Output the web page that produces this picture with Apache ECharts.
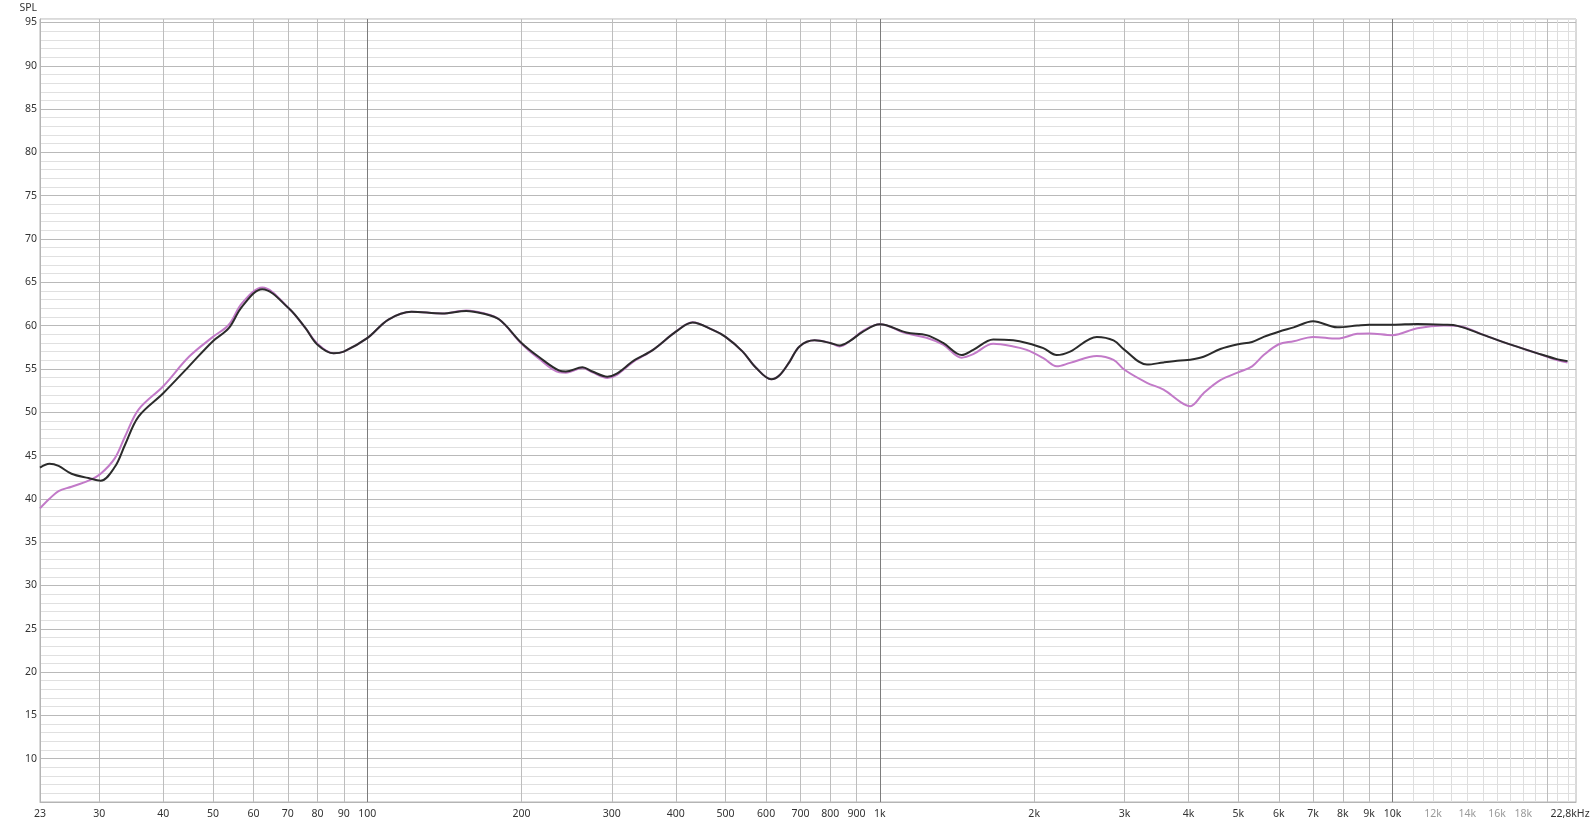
<!DOCTYPE html>
<html><head><meta charset="utf-8">
<script src="https://cdn.jsdelivr.net/npm/echarts@6/dist/echarts.min.js"></script>
<style>html,body{margin:0;padding:0;background:#fff}#c{width:1595px;height:826px}</style>
</head><body><div id="c"></div>
<script>
const freqs = [23, 24, 25, 26.5, 28.6, 30.2, 32.2, 33.7, 35.8, 40, 44.9, 50, 53.7, 57, 62.4, 70.3, 75.8, 80, 86, 90,
  100, 110, 122, 140, 156, 168, 181, 200, 216, 237, 244, 263, 275, 294, 334, 361, 400, 431, 472, 500,
  540, 574, 614, 638, 667, 697, 746, 800, 835, 873, 927, 1000, 1127, 1233, 1329, 1444, 1521, 1664, 1821, 1934,
  2084, 2213, 2350, 2650, 2856, 3000, 3319, 3576, 3855, 4030, 4280, 4615, 5000, 5322, 5607, 6000, 6416, 7000, 7800, 8535,
  9000, 10000, 11180, 12600, 13390, 15090, 17010, 19180, 21000, 21950];
const blackValues = [43.6, 44.05, 43.8, 42.9, 42.4, 42.1, 43.7, 46.25, 49.5, 52.2, 55.3, 58.2, 59.7, 62.2, 64.2, 62.0, 59.7, 57.8, 56.8, 57.0,
  58.55, 60.7, 61.6, 61.4, 61.7, 61.4, 60.7, 58.0, 56.4, 54.8, 54.7, 55.2, 54.7, 54.1, 56.1, 57.2, 59.3, 60.35, 59.5, 58.7,
  57.0, 55.1, 53.8, 54.3, 55.85, 57.6, 58.3, 58.0, 57.7, 58.2, 59.3, 60.15, 59.2, 58.9, 58.0, 56.6, 57.2, 58.4, 58.3, 58.0,
  57.4, 56.6, 57.0, 58.7, 58.3, 57.2, 55.5, 55.75, 55.97, 56.05, 56.4, 57.3, 57.85, 58.1, 58.7, 59.3, 59.8, 60.5, 59.8, 60.0,
  60.1, 60.1, 60.2, 60.1, 59.97, 58.9, 57.8, 56.8, 56.1, 55.9];
const purpleValues = [38.9, 40.0, 40.9, 41.4, 42.1, 42.9, 44.7, 47.2, 50.3, 53.0, 56.4, 58.7, 60.1, 62.6, 64.4, 62.0, 59.7, 57.9, 56.8, 57.0,
  58.55, 60.7, 61.6, 61.4, 61.75, 61.45, 60.7, 57.9, 56.2, 54.6, 54.55, 55.1, 54.6, 53.95, 56.0, 57.2, 59.3, 60.4, 59.5, 58.7,
  57.0, 55.1, 53.8, 54.3, 55.85, 57.6, 58.3, 58.0, 57.6, 58.2, 59.4, 60.15, 59.1, 58.6, 57.8, 56.3, 56.7, 57.9, 57.6, 57.2,
  56.25, 55.3, 55.7, 56.5, 56.05, 54.9, 53.4, 52.6, 51.2, 50.7, 52.2, 53.7, 54.6, 55.3, 56.6, 57.85, 58.2, 58.7, 58.5, 59.05,
  59.1, 58.9, 59.7, 60.0, 59.97, 58.9, 57.8, 56.8, 56.0, 55.75];

const xTickValues = [23, 30, 40, 50, 60, 70, 80, 90, 100, 200, 300, 400, 500, 600, 700, 800, 900, 1000,
  2000, 3000, 4000, 5000, 6000, 7000, 8000, 9000, 10000, 12000, 14000, 16000, 18000, 22800];
const xTickLabels = ['23', '30', '40', '50', '60', '70', '80', '90', '100', '200', '300', '400', '500', '600', '700', '800', '900', '1k',
  '2k', '3k', '4k', '5k', '6k', '7k', '8k', '9k', '10k', '12k', '14k', '16k', '18k', '22,8kHz'];
const greyTickLabels = ['12k', '14k', '16k', '18k'];
const yLabelStep = 5;

const gridMid = [30, 40, 50, 60, 70, 80, 90, 200, 300, 400, 500, 600, 700, 800, 900,
  2000, 3000, 4000, 5000, 6000, 7000, 8000, 9000, 20000];
const gridDecade = [100, 1000, 10000];
const gridLight = [11000, 12000, 13000, 14000, 15000, 16000, 17000, 18000, 19000, 21000, 22000];

const labelMap = {};
xTickValues.forEach((v, i) => { labelMap[v] = xTickLabels[i]; });

const markData = []
  .concat(gridLight.map(v => ({ xAxis: v, lineStyle: { color: '#dedede' } })))
  .concat(gridMid.map(v => ({ xAxis: v, lineStyle: { color: '#bdbdbd' } })))
  .concat(gridDecade.map(v => ({ xAxis: v, lineStyle: { color: '#7c7c7c' } })));

const chart = echarts.init(document.getElementById('c'), null, { renderer: 'canvas' });
const font = 'Noto Sans';
chart.setOption({
  animation: false,
  backgroundColor: '#ffffff',
  grid: { left: 40, right: 19, top: 19, bottom: 24, show: true, borderColor: '#b4b4b4', borderWidth: 1, containLabel: false },
  xAxis: {
    type: 'log', logBase: 10, min: 23, max: 22800,
    axisLine: { show: true, lineStyle: { color: '#b4b4b4' } },
    axisTick: { show: false },
    splitLine: { show: false },
    minorSplitLine: { show: false },
    axisLabel: {
      customValues: xTickValues,
      margin: 7,
      fontFamily: font, fontSize: 10.5, color: '#333',
      showMinLabel: true, showMaxLabel: true, hideOverlap: false,
      formatter: function (v) {
        let key = Math.round(v);
        const t = labelMap[key] !== undefined ? labelMap[key] : '';
        if (greyTickLabels.indexOf(t) >= 0) return '{g|' + t + '}';
        if (t === '22,8kHz') return '{e|' + t + '}';
        return t;
      },
      rich: {
        g: { color: '#9a9a9a', fontFamily: font, fontSize: 10.5 },
        e: { color: '#333', fontFamily: font, fontSize: 10.5, padding: [0, 12, 0, 0] }
      }
    }
  },
  yAxis: {
    type: 'value', min: 5, max: 95.4, interval: 1,
    name: 'SPL', nameLocation: 'end', nameGap: 5,
    nameTextStyle: { fontFamily: font, fontSize: 10.5, color: '#333', align: 'right', verticalAlign: 'bottom', padding: [0, 3, 0, 0] },
    axisLine: { show: true, lineStyle: { color: '#b4b4b4' } },
    axisTick: { show: false },
    axisLabel: {
      margin: 3, fontFamily: font, fontSize: 10.5, color: '#333',
      showMinLabel: true, showMaxLabel: true,
      formatter: function (v) {
        const r = Math.round(v * 10) / 10;
        return (Math.abs(r - Math.round(r)) < 1e-6 && Math.round(r) % yLabelStep === 0 && r >= 10) ? String(Math.round(r)) : '';
      }
    },
    splitLine: { show: true, lineStyle: { color: ['#b9b9b9', '#e0e0e0', '#e0e0e0', '#e0e0e0', '#e0e0e0'], width: 1 } }
  },
  series: [
    {
      type: 'line', name: 'grid', data: [], z: 1, silent: true,
      markLine: { silent: true, z: 1, symbol: ['none', 'none'], label: { show: false }, lineStyle: { type: 'solid', width: 1 }, emphasis: { disabled: true }, data: markData }
    },
    {
      type: 'line', name: 'purple', z: 3, smooth: 0.35, showSymbol: false, silent: true,
      lineStyle: { color: '#c27ac8', width: 2 },
      data: freqs.map((f, i) => [f, purpleValues[i]])
    },
    {
      type: 'line', name: 'black', z: 4, smooth: 0.35, showSymbol: false, silent: true,
      lineStyle: { color: '#2b2b2b', width: 2 },
      data: freqs.map((f, i) => [f, blackValues[i]])
    }
  ]
});
</script>
</body></html>
